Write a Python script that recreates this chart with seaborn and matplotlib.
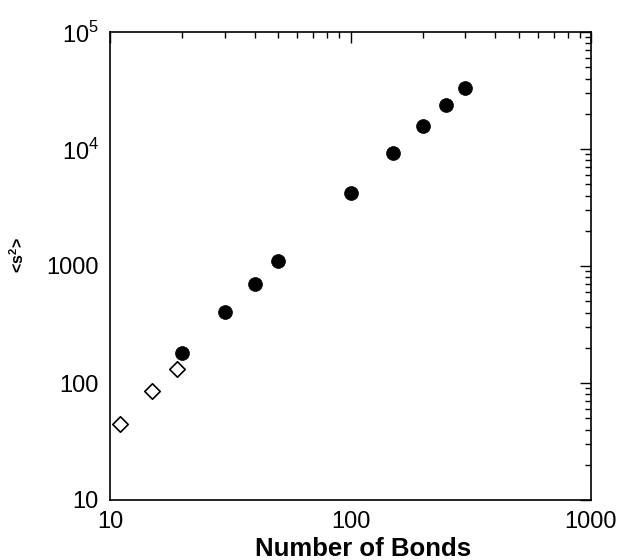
import matplotlib
matplotlib.use("Agg")
import matplotlib.pyplot as plt
import seaborn as sns
import pandas as pd
from matplotlib.ticker import LogLocator, FixedLocator, FixedFormatter, NullFormatter

sns.set_theme(style="white")
plt.rcParams['font.family'] = ['Liberation Sans', 'DejaVu Sans']
plt.rcParams['mathtext.fontset'] = 'custom'
plt.rcParams['mathtext.rm'] = 'Liberation Sans'
plt.rcParams['mathtext.bf'] = 'Liberation Sans:bold'

# data
bonds_filled = [20, 30, 40, 50, 100, 150, 200, 250, 300]
s2_filled = [180, 407, 702, 1104, 4234, 9240, 15730, 23770, 33400]
bonds_open = [11, 15, 19]
s2_open = [45, 85, 132]
y_tick_vals = [10, 100, 1000, 1e4, 1e5]
y_tick_labels = ["10", "100", "1000", r"$10^4$", r"$10^5$"]
x_tick_vals = [10, 100, 1000]
x_tick_labels = ["10", "100", "1000"]

df_f = pd.DataFrame({"bonds": bonds_filled, "s2": s2_filled})
df_o = pd.DataFrame({"bonds": bonds_open, "s2": s2_open})

fig = plt.figure(figsize=(6.19, 5.6), dpi=100)
ax = fig.add_axes([110/619, 1-500/560, 481/619, 468/560])

sns.scatterplot(data=df_f, x="bonds", y="s2", ax=ax, marker="o", s=100,
                color="black", edgecolor="black", linewidth=0.5, zorder=3)
sns.scatterplot(data=df_o, x="bonds", y="s2", ax=ax, marker="D", s=62,
                facecolor="white", edgecolor="black", linewidth=1.2, zorder=3)

ax.set_xscale("log")
ax.set_yscale("log")
ax.set_xlim(10, 1000)
ax.set_ylim(10, 1e5)

ax.xaxis.set_major_locator(FixedLocator(x_tick_vals))
ax.xaxis.set_major_formatter(FixedFormatter(x_tick_labels))
ax.yaxis.set_major_locator(FixedLocator(y_tick_vals))
ax.yaxis.set_major_formatter(FixedFormatter(y_tick_labels))
ax.xaxis.set_minor_locator(LogLocator(base=10, subs=range(2, 10)))
ax.yaxis.set_minor_locator(LogLocator(base=10, subs=range(2, 10)))
ax.xaxis.set_minor_formatter(NullFormatter())
ax.yaxis.set_minor_formatter(NullFormatter())

ax.tick_params(which="both", direction="in", top=True, right=True, color="black",
               width=1.0)
ax.tick_params(which="major", length=8, labelsize=17, colors="black")
ax.tick_params(axis="x", which="major", pad=8)
ax.tick_params(axis="y", which="major", pad=8)
ax.tick_params(which="minor", length=4)
for sp in ax.spines.values():
    sp.set_color("black")
    sp.set_linewidth(1.2)

ax.set_xlabel("Number of Bonds", fontsize=18.5, fontweight="bold", color="black",
              va="baseline")
ax.set_ylabel("<s$^\\mathbf{2}$>", fontsize=11.5, fontweight="bold", labelpad=14, color="black")
ax.xaxis.set_label_coords(0.527, -0.1197)
ax.yaxis.label.set_y(0.5235)
ax.grid(False)

fig.savefig("out.png", dpi=100)
